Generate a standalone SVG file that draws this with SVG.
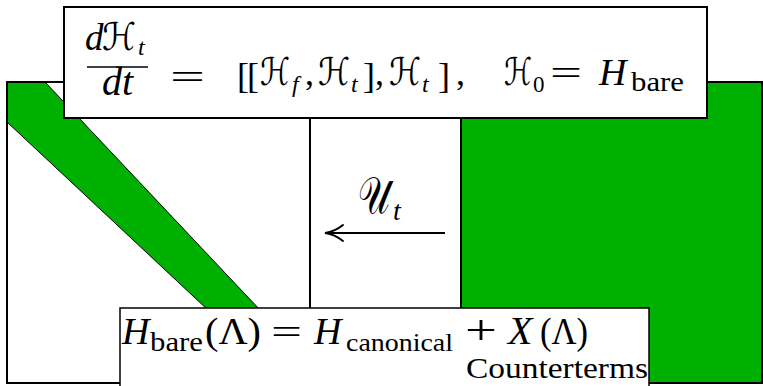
<svg xmlns="http://www.w3.org/2000/svg" width="763" height="386" viewBox="0 0 763 386">
<defs>
<style>
.bx{stroke:#000;stroke-width:2}
.m{font-family:"Liberation Serif","DejaVu Serif",serif;fill:#000}
.i{font-style:italic}
.cal{font-family:"DejaVu Sans","Noto Sans",sans-serif;fill:#000}
.g{fill:#00b000}
.ahd{fill:none;stroke:#000;stroke-width:2;stroke-linecap:round}
</style>
</defs>
<rect width="763" height="386" fill="#fff"/>
<g id="left-block">
<rect x="7" y="82" width="303" height="301" fill="#fff"/>
<polygon class="g" points="7,82 45,82 310,363 310,383 286,383 7,122" stroke="#000" stroke-width="1"/>
<rect x="7" y="82" width="303" height="301" fill="none" class="bx"/>
</g>
<g id="middle-block">
<rect x="310" y="82" width="151" height="301" fill="#fff" class="bx"/>
</g>
<g id="right-block">
<rect x="461" y="82" width="301" height="301" class="g bx"/>
</g>
<g id="flow-equation">
<rect x="64" y="7" width="643" height="111" fill="#fff" class="bx"/>
<text class="m i" x="85" y="50" font-size="37">d</text>
<text class="cal" x="102" y="50" font-size="38" textLength="34" lengthAdjust="spacingAndGlyphs">ℋ</text>
<text class="m i" x="138" y="55" font-size="24">t</text>
<line x1="87" y1="67" x2="148" y2="67" stroke="#000" stroke-width="1.6"/>
<text class="m i" x="102" y="95" font-size="40">dt</text>
<text class="m" x="170" y="89" font-size="36" textLength="35" lengthAdjust="spacingAndGlyphs">=</text>
<text class="m" x="237" y="88" font-size="36" textLength="22">[[</text>
<text class="cal" x="260" y="85" font-size="38" textLength="30" lengthAdjust="spacingAndGlyphs">ℋ</text>
<text class="m i" x="292" y="92" font-size="24">f</text>
<text class="m" x="305" y="85" font-size="36">,</text>
<text class="cal" x="318" y="85" font-size="38" textLength="32" lengthAdjust="spacingAndGlyphs">ℋ</text>
<text class="m i" x="351" y="92" font-size="24">t</text>
<text class="m" x="363" y="88" font-size="36">]</text>
<text class="m" x="375" y="85" font-size="36">,</text>
<text class="cal" x="389" y="85" font-size="38" textLength="32" lengthAdjust="spacingAndGlyphs">ℋ</text>
<text class="m i" x="422" y="92" font-size="24">t</text>
<text class="m" x="438" y="88" font-size="36">]</text>
<text class="m" x="456" y="85" font-size="36">,</text>
<text class="cal" x="504" y="85" font-size="38" textLength="28" lengthAdjust="spacingAndGlyphs">ℋ</text>
<text class="m" x="533" y="92" font-size="23">0</text>
<text class="m" x="550" y="85" font-size="36" textLength="32" lengthAdjust="spacingAndGlyphs">=</text>
<text class="m i" x="599" y="85" font-size="38">H</text>
<text class="m" x="631" y="91" font-size="28" textLength="53" lengthAdjust="spacingAndGlyphs">bare</text>
</g>
<g id="connectors">
<line x1="445" y1="233" x2="328" y2="233" stroke="#000" stroke-width="2"/>
<path class="ahd" d="M343,225 C338,229 332,232 325,233 C332,234 338,237 343,241"/>
</g>
<g id="flow-label">
<text class="cal" x="358" y="213" font-size="52" textLength="32" lengthAdjust="spacingAndGlyphs">𝒰</text>
<text class="m i" x="393" y="220" font-size="28">t</text>
</g>
<g id="bare-hamiltonian">
<rect x="120" y="308" width="529" height="90" fill="#fff" stroke="#000" stroke-width="1.5"/>
<text class="m i" x="122" y="344" font-size="38">H</text>
<text class="m" x="150" y="351" font-size="28" textLength="53" lengthAdjust="spacingAndGlyphs">bare</text>
<text class="m" x="205" y="344" font-size="38" textLength="56" lengthAdjust="spacingAndGlyphs">(Λ)</text>
<text class="m" x="271" y="344" font-size="36" textLength="31" lengthAdjust="spacingAndGlyphs">=</text>
<text class="m i" x="314" y="344" font-size="38">H</text>
<text class="m" x="346" y="351" font-size="26" textLength="107" lengthAdjust="spacingAndGlyphs">canonical</text>
<text class="m" x="465" y="344" font-size="42" textLength="32" lengthAdjust="spacingAndGlyphs">+</text>
<text class="m i" x="508" y="344" font-size="40">X</text>
<text class="m" x="540" y="344" font-size="38" textLength="48" lengthAdjust="spacingAndGlyphs">(Λ)</text>
<text class="m" x="466" y="378" font-size="29" textLength="182" lengthAdjust="spacingAndGlyphs">Counterterms</text>
</g>
</svg>
